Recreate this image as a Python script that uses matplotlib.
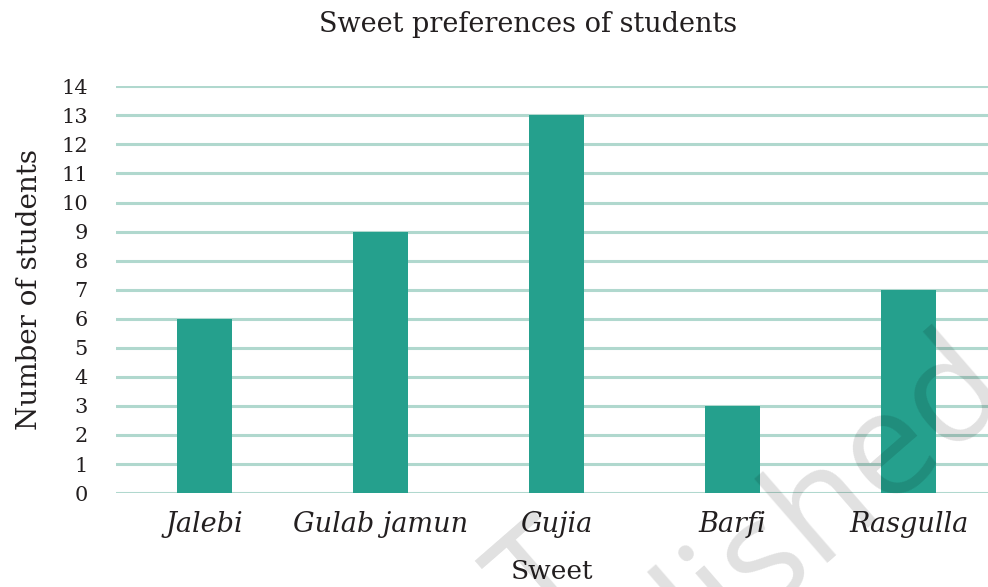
import numpy as np
import matplotlib
matplotlib.use("Agg")
from matplotlib import pyplot as plt

# data
sweets = ['Jalebi', 'Gulab jamun', 'Gujia', 'Barfi', 'Rasgulla']
students = [6, 9, 13, 3, 7]
yticks = list(range(0, 15))

bar_color = '#25a08d'
grid_color = '#b0d8ce'
text_color = '#231f20'

plt.rcParams['font.family'] = ['DejaVu Serif']

fig = plt.figure(figsize=(9.88, 5.87), dpi=100)
ax = fig.add_axes([0.117, 0.160, 0.883, 0.693])
ax.patch.set_alpha(0)

x = np.arange(len(sweets))
ax.bar(x, students, width=0.31, color=bar_color, zorder=3)

ax.set_ylim(0, 14)
ax.set_xlim(-0.505, 4.45)
ax.set_yticks(yticks)
ax.set_yticklabels([str(t) for t in yticks], fontsize=15, color=text_color)
ax.set_xticks(x)
ax.set_xticklabels(sweets, fontsize=19.5, style='italic', color=text_color)
ax.tick_params(axis='both', length=0)
ax.tick_params(axis='x', pad=13)
ax.tick_params(axis='y', pad=20)

for t in yticks:
    ax.axhline(t, color=grid_color, lw=2.2, zorder=1)

for s in ax.spines.values():
    s.set_visible(False)

ax.set_ylabel('Number of students', fontsize=20, color=text_color, labelpad=13)
ax.set_xlabel('Sweet', fontsize=19, color=text_color, labelpad=15)

fig.text(528 / 988, 1 - 25 / 587, 'Sweet preferences of students', fontsize=19.5,
         color=text_color, ha='center', va='center')

# faint watermark, drawn over everything like in the scan
wm = dict(color='black', alpha=0.12, rotation=41, ha='center', va='center',
          family='Open Sans', fontsize=105, zorder=10)
fig.text(835 / 988, 1 - 495 / 587, 'lished', **wm)
fig.text(548 / 988, 1 - 585 / 587, 'T', **wm)

fig.savefig('out.png', dpi=100)
